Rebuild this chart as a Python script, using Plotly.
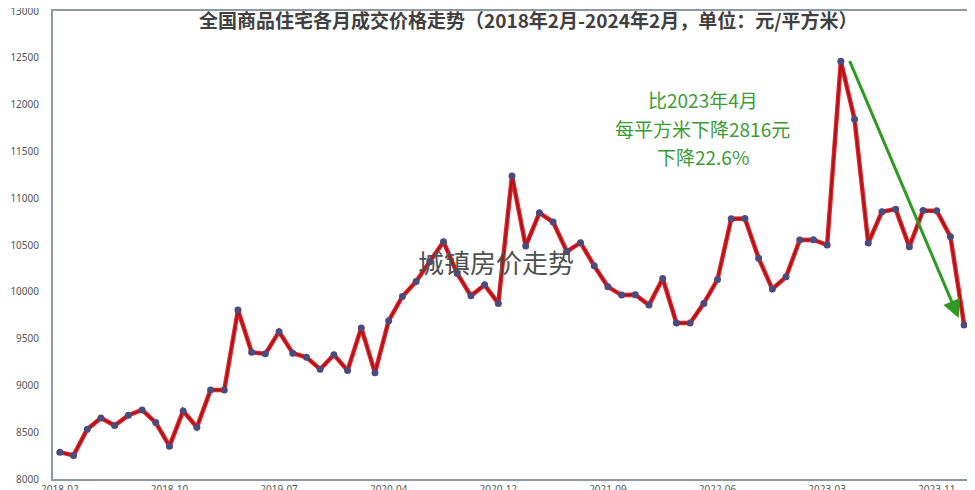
import plotly.graph_objects as go

years = [2018, 2019, 2020, 2021, 2022, 2023, 2024]
# monthly categories (January merged with February in the statistics)
months = []
for yr in years:
    for m in range(2, 13):
        if yr == 2024 and m > 2:
            break
        months.append(f"{yr}-{m:02d}")

prices = [8287, 8252, 8532, 8652, 8571, 8681, 8738, 8603, 8351, 8727,
          8553, 8950, 8950, 9805, 9354, 9337, 9574, 9344, 9301, 9173,
          9327, 9160, 9614, 9135, 9691, 9950, 10110, 10320, 10535, 10195,
          9957, 10074, 9876, 11237, 10489, 10844, 10745, 10430, 10525, 10277,
          10053, 9965, 9968, 9858, 10142, 9667, 9667, 9876, 10131, 10780,
          10784, 10359, 10029, 10160, 10553, 10557, 10500, 12462, 11844, 10521,
          10855, 10883, 10482, 10869, 10865, 10588, 9646]

tick_labels = ["2018-02", "2018-10", "2019-07", "2020-04", "2020-12",
               "2021-09", "2022-06", "2023-03", "2023-11"]
y_ticks = [8000, 8500, 9000, 9500, 10000, 10500, 11000, 11500, 12000, 12500, 13000]

title_text = "全国商品住宅各月成交价格走势（2018年2月-2024年2月，单位：元/平方米）"
note_lines = ["比2023年4月", "每平方米下降2816元", "下降22.6%"]
watermark = "城镇房价走势"

fig = go.Figure()
fig.add_trace(go.Scatter(x=months, y=prices, mode="lines",
                         line=dict(color="#e8262a", width=4.5),
                         hoverinfo="skip", showlegend=False))
fig.add_trace(go.Scatter(x=months, y=prices, mode="lines+markers",
                         line=dict(color="#a3161c", width=2),
                         marker=dict(color="#4b4b7d", size=7),
                         showlegend=False))

axis_line = "#8c98a4"
fig.update_xaxes(type="category", range=[-0.5, len(months) - 0.5],
                 tickvals=tick_labels, ticktext=tick_labels,
                 showgrid=False, zeroline=False, automargin=False,
                 showline=True, linecolor=axis_line, linewidth=2, mirror=True,
                 ticks="", ticklabeloverflow="allow",
                 tickfont=dict(family="Noto Sans", size=10, color="#555555"))
fig.update_yaxes(range=[8000, 13000], tickvals=y_ticks,
                 ticktext=[str(v) for v in y_ticks],
                 showgrid=False, zeroline=False, automargin=False,
                 showline=True, linecolor=axis_line, linewidth=2, mirror=True,
                 ticks="", ticklabelstandoff=10, ticklabeloverflow="allow",
                 tickfont=dict(family="Noto Sans", size=10, color="#555555"))

fig.add_annotation(text=title_text, xref="paper", yref="paper", x=0.518, y=0.982,
                   showarrow=False, xanchor="center", yanchor="middle",
                   font=dict(family="Noto Sans CJK SC", size=19, color="#404040",
                             weight="bold"))

note_y = [0.81, 0.75, 0.69]
for line_text, ny in zip(note_lines, note_y):
    fig.add_annotation(text=line_text, xref="paper", yref="paper", x=0.708, y=ny,
                       showarrow=False, xanchor="center", yanchor="middle",
                       font=dict(family="Noto Sans CJK SC", size=19, color="#3c9b35"))

fig.add_annotation(text=watermark, xref="paper", yref="paper", x=0.483, y=0.465,
                   showarrow=False, xanchor="center", yanchor="middle",
                   font=dict(family="Noto Sans CJK SC", size=26, color="#505050"))

# green arrow: from 2023-04 peak region down to 2024-02
fig.add_annotation(x=65.6, y=9720, xref="x", yref="y",
                   ax=57.6, ay=12480, axref="x", ayref="y",
                   text="", showarrow=True, arrowhead=2, arrowsize=1.2,
                   arrowwidth=3, arrowcolor="#2e9a22")

fig.update_layout(width=975, height=490,
                  margin=dict(l=45, r=12, t=3, b=19),
                  paper_bgcolor="white", plot_bgcolor="white")

fig.write_html("out.html")
